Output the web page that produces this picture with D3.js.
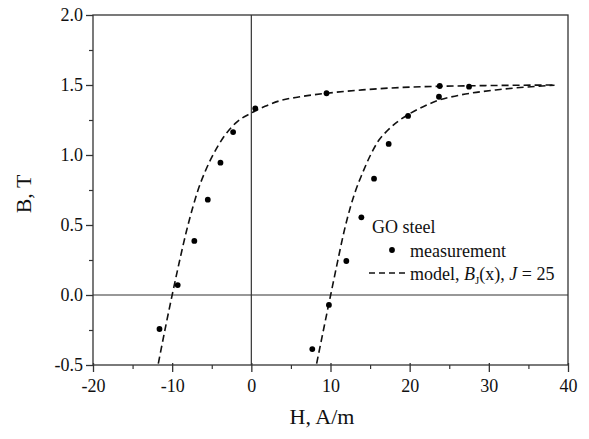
<!DOCTYPE html>
<html>
<head>
<meta charset="utf-8">
<script src="https://cdn.jsdelivr.net/npm/d3@7"></script>
<style>
  html, body { margin: 0; padding: 0; background: #fff; }
  svg text { font-family: "Liberation Serif", "Times New Roman", serif; fill: #111; }
</style>
</head>
<body>
<svg id="chart" width="589" height="439"></svg>
<script>
// ---- data ----
const measH = [0.5, -2.3, -3.9, -5.5, -7.2, -9.3, -11.6, 9.5, 23.8, 27.5, 23.7, 19.8, 17.35, 15.5, 13.9, 12.0, 9.8, 7.7];
const measB = [1.333, 1.164, 0.945, 0.681, 0.386, 0.071, -0.243, 1.441, 1.493, 1.488, 1.416, 1.279, 1.079, 0.831, 0.555, 0.243, -0.071, -0.386];

const modelDownH = [-11.75, -10.7, -10.0, -9.0, -8.2, -7.4, -6.7, -5.85, -4.8, -3.54, -1.84, 0.0, 1.73, 3.62, 6.14, 9.52, 14.0, 18.8, 24.0, 31.4, 38.3];
const modelDownB = [-0.49, -0.19, 0.0, 0.26, 0.455, 0.625, 0.755, 0.88, 1.005, 1.125, 1.235, 1.30, 1.348, 1.388, 1.416, 1.441, 1.465, 1.482, 1.491, 1.497, 1.5];

const modelUpH = [8.25, 9.2, 10.02, 10.9, 11.7, 12.5, 13.2, 14.0, 15.1, 16.1, 17.2, 18.4, 20.0, 21.7, 23.6, 26.1, 31.4, 38.3];
const modelUpB = [-0.49, -0.225, 0.0, 0.24, 0.45, 0.625, 0.75, 0.865, 1.005, 1.105, 1.175, 1.235, 1.295, 1.345, 1.39, 1.425, 1.468, 1.498];

const xMajorTicks = [-20, -10, 0, 10, 20, 30, 40];
const xMinorTicks = [-15, -5, 5, 15, 25, 35];
const yMajorTicks = [-0.5, 0.0, 0.5, 1.0, 1.5, 2.0];
const yMinorTicks = [-0.25, 0.25, 0.75, 1.25, 1.75];

const xLabel = "H, A/m";
const yLabel = "B, T";
const legendTitle = "GO steel";
const legendMeas = "measurement";

// ---- layout ----
const FONT = "'Liberation Serif', 'Times New Roman', serif";
const L = 93, R = 568, T = 15, B = 365;
const svg = d3.select("#chart");
const x = d3.scaleLinear().domain([-20, 40]).range([L, R]);
const y = d3.scaleLinear().domain([-0.5, 2.0]).range([B, T]);
const lineColor = "#333";

// frame
svg.append("rect").attr("x", L).attr("y", T).attr("width", R - L).attr("height", B - T)
  .attr("fill", "none").attr("stroke", lineColor).attr("stroke-width", 1.3);

// zero lines
svg.append("line").attr("x1", L).attr("x2", R).attr("y1", y(0)).attr("y2", y(0))
  .attr("stroke", lineColor).attr("stroke-width", 1.2);
svg.append("line").attr("x1", x(0)).attr("x2", x(0)).attr("y1", T).attr("y2", B)
  .attr("stroke", lineColor).attr("stroke-width", 1.2);

// x axis
const gx = svg.append("g").attr("transform", `translate(0,${B})`)
  .call(d3.axisBottom(x).tickValues(xMajorTicks).tickSizeInner(7).tickSizeOuter(0));
gx.attr("font-family", FONT).attr("font-size", 18);
gx.select(".domain").remove();
gx.selectAll(".tick line").attr("stroke", lineColor).attr("stroke-width", 1.3).attr("y1", -2);
gx.selectAll(".tick text").attr("y", 27).attr("dy", "0").attr("font-family", FONT).attr("font-size", 18)
  .text(d => (d < 0 ? "-" : "") + Math.abs(d));
const gxm = svg.append("g").attr("transform", `translate(0,${B})`)
  .call(d3.axisBottom(x).tickValues(xMinorTicks).tickSizeInner(4).tickSizeOuter(0).tickFormat(""));
gxm.select(".domain").remove();
gxm.selectAll(".tick line").attr("stroke", lineColor).attr("stroke-width", 1.2);

// y axis
const gy = svg.append("g").attr("transform", `translate(${L},0)`)
  .call(d3.axisLeft(y).tickValues(yMajorTicks).tickSizeInner(7).tickSizeOuter(0).tickPadding(3));
gy.attr("font-family", FONT).attr("font-size", 18);
gy.select(".domain").remove();
gy.selectAll(".tick line").attr("stroke", lineColor).attr("stroke-width", 1.3);
gy.selectAll(".tick text").attr("font-family", FONT).attr("font-size", 18)
  .text(d => (d < 0 ? "-" : "") + Math.abs(d).toFixed(1));
const gym = svg.append("g").attr("transform", `translate(${L},0)`)
  .call(d3.axisLeft(y).tickValues(yMinorTicks).tickSizeInner(4).tickSizeOuter(0).tickFormat(""));
gym.select(".domain").remove();
gym.selectAll(".tick line").attr("stroke", lineColor).attr("stroke-width", 1.2);

// axis labels
svg.append("text").attr("x", 322).attr("y", 424).attr("text-anchor", "middle")
  .attr("font-family", FONT).attr("font-size", 22).text(xLabel);
svg.append("text").attr("transform", "translate(31,194) rotate(-90)").attr("text-anchor", "middle")
  .attr("font-family", FONT).attr("font-size", 22).text(yLabel);

// model curves
const line = d3.line().x(d => x(d[0])).y(d => y(d[1])).curve(d3.curveMonotoneX);
const down = modelDownH.map((h, i) => [h, modelDownB[i]]);
const up = modelUpH.map((h, i) => [h, modelUpB[i]]);
[down, up].forEach(pts => {
  svg.append("path").attr("d", line(pts)).attr("fill", "none")
    .attr("stroke", "#111").attr("stroke-width", 1.6).attr("stroke-dasharray", "7,4");
});

// measurement points
svg.append("g").selectAll("circle").data(measH.map((h, i) => [h, measB[i]])).join("circle")
  .attr("cx", d => x(d[0])).attr("cy", d => y(d[1])).attr("r", 2.9).attr("fill", "#000");

// legend
svg.append("text").attr("x", 372).attr("y", 233).attr("font-family", FONT).attr("font-size", 18).text(legendTitle);
svg.append("circle").attr("cx", 392).attr("cy", 250).attr("r", 2.9).attr("fill", "#000");
svg.append("text").attr("x", 410).attr("y", 257).attr("font-family", FONT).attr("font-size", 18).text(legendMeas);
svg.append("line").attr("x1", 369).attr("x2", 406).attr("y1", 273).attr("y2", 273)
  .attr("stroke", "#111").attr("stroke-width", 1.5).attr("stroke-dasharray", "6,4");
const mt = svg.append("text").attr("x", 410).attr("y", 280).attr("font-family", FONT).attr("font-size", 18);
mt.append("tspan").text("model, ");
mt.append("tspan").attr("font-style", "italic").text("B");
mt.append("tspan").attr("font-size", 11).attr("dy", 4).text("J");
mt.append("tspan").attr("dy", -4).text("(x), ");
mt.append("tspan").attr("font-style", "italic").text("J");
mt.append("tspan").text(" = 25");
</script>
</body>
</html>
